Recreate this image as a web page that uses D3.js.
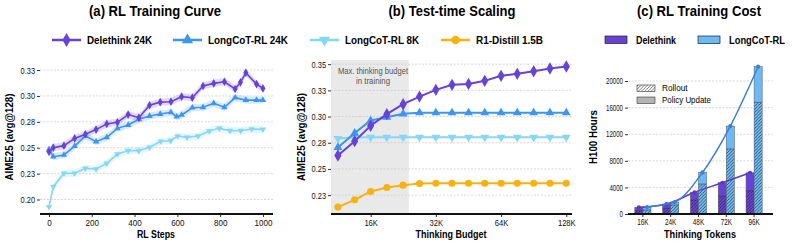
<!DOCTYPE html>
<html>
<head>
<meta charset="utf-8">
<script src="https://cdn.jsdelivr.net/npm/d3@7"></script>
<style>
body { margin: 0; background: #fff; }
svg { font-family: "Liberation Sans", Arial, sans-serif; }
</style>
</head>
<body>
<svg width="793" height="244"></svg>
<script>

// ---- (a) RL training curve ----
var deleSteps = [0, 20, 70, 120, 170, 220, 270, 320, 370, 420, 470, 520, 570, 620, 670, 720, 770, 820, 870, 895, 920, 970, 1000];
var deleAcc = [0.246, 0.250, 0.252, 0.259, 0.263, 0.2675, 0.273, 0.2745, 0.282, 0.279, 0.291, 0.294, 0.2944, 0.2993, 0.2983, 0.3096, 0.3121, 0.3137, 0.3067, 0.3131, 0.3224, 0.3115, 0.3073];
var long24Steps = [0, 20, 70, 120, 170, 220, 270, 320, 370, 420, 470, 520, 570, 597, 620, 670, 720, 770, 820, 870, 920, 970, 1000];
var long24Acc = [0.2485, 0.2413, 0.243, 0.2516, 0.2613, 0.2558, 0.260, 0.2687, 0.2719, 0.2774, 0.2806, 0.2825, 0.2842, 0.2799, 0.2816, 0.2886, 0.289, 0.2929, 0.289, 0.2983, 0.296, 0.296, 0.296];
var long8Steps = [0, 20, 70, 120, 170, 220, 270, 320, 370, 420, 470, 523, 569, 601, 645, 697, 749, 796, 846, 896, 947, 1000];
var long8Acc = [0.193, 0.2124, 0.2253, 0.2253, 0.2301, 0.2294, 0.2349, 0.2439, 0.2471, 0.2471, 0.2504, 0.2562, 0.2568, 0.2613, 0.260, 0.2613, 0.2661, 0.2687, 0.2664, 0.2664, 0.268, 0.2677];
var stepTicks = [0, 200, 400, 600, 800, 1000];
var accTicksA = [0.2, 0.225, 0.25, 0.275, 0.3, 0.325];

// ---- (b) test-time scaling ----
var budgetK = [11.3, 13.5, 16, 19, 22.6, 26.9, 32, 38, 45.3, 53.8, 64, 76, 90.5, 107.6, 128];
var deleTTS = [0.2628, 0.2765, 0.2912, 0.3023, 0.3118, 0.3191, 0.3255, 0.3303, 0.3312, 0.3341, 0.3389, 0.3408, 0.3433, 0.3459, 0.3478];
var long24TTS = [0.2705, 0.2842, 0.2962, 0.2994, 0.3026, 0.3036, 0.3036, 0.3036, 0.3036, 0.3036, 0.3036, 0.3036, 0.3036, 0.3036, 0.3036];
var long8TTS = [0.2791, 0.2803, 0.2803, 0.2803, 0.2803, 0.2803, 0.2803, 0.2803, 0.2803, 0.2803, 0.2803, 0.2803, 0.2803, 0.2803, 0.2803];
var r1TTS = [0.2136, 0.2205, 0.2285, 0.2323, 0.2345, 0.2361, 0.2364, 0.2364, 0.2364, 0.2364, 0.2364, 0.2364, 0.2364, 0.2364, 0.2364];
var budgetTicks = [16, 32, 64, 128];
var accTicksB = [0.225, 0.25, 0.275, 0.3, 0.325, 0.35];
var trainBudget = 24;

// ---- (c) RL training cost ----
var tokenCats = ["16K", "24K", "48K", "72K", "96K"];
var deleRollout = [500, 850, 2100, 2700, 3500];
var deleTotal = [1000, 1500, 3260, 4700, 6200];
var longRollout = [600, 1350, 4500, 9770, 16800];
var longTotal = [1050, 1800, 6250, 13230, 22150];
var hourTicks = [0, 4000, 8000, 12000, 16000, 20000];

var purple = "#6741d9", blue = "#3d95f2", lightBlue = "#84d7fb", orange = "#f7b20f";
var barPurple = "#6842d6", barBlue = "#6db9f6", lineBlue = "#3a80d9";

var svg = d3.select("svg");
var defs = svg.append("defs");
defs.append("pattern")
    .attr("id", "hatch")
    .attr("patternUnits", "userSpaceOnUse")
    .attr("width", 3.2).attr("height", 3.2)
  .append("path")
    .attr("d", "M-0.8,0.8 l1.6,-1.6 M0,3.2 l3.2,-3.2 M2.4,4 l1.6,-1.6")
    .attr("stroke", "#222").attr("stroke-width", 0.6);

var fmt2 = d3.format(".2f");

// squeeze text horizontally (reference font is a narrow sans);
// anchor is resolved by hand so centred / right-aligned text stays put
function squeeze(sel, target) {
  sel.each(function() {
    var n = this.getComputedTextLength();
    var t = typeof target === "function" ? target(n) : target;
    var anchor = getComputedStyle(this).textAnchor;
    var x = +(this.getAttribute("x") || 0);
    if (anchor === "middle") x -= t / 2;
    else if (anchor === "end") x -= t;
    this.setAttribute("x", x);
    this.style.textAnchor = "start";
    this.setAttribute("textLength", t);
    this.setAttribute("lengthAdjust", "spacingAndGlyphs");
  });
}

function yGrid(g, y, ticks, x0, x1, fmt, fs, k) {
  g.selectAll(".grid").data(ticks).enter().append("line")
      .attr("x1", x0).attr("x2", x1)
      .attr("y1", function(d) { return y(d); })
      .attr("y2", function(d) { return y(d); })
      .attr("stroke", "#c8c8c8").attr("stroke-width", 0.7)
      .attr("stroke-dasharray", "2,1.5");
  var ax = g.append("g")
      .attr("transform", "translate(" + x0 + ",0)")
      .call(d3.axisLeft(y).tickValues(ticks).tickFormat(fmt).tickSize(3).tickPadding(2));
  ax.select(".domain").remove();
  ax.selectAll("text").attr("font-size", fs).attr("fill", "#111").style("font-family", null);
  ax.selectAll("line").attr("stroke", "#333");
  squeeze(ax.selectAll("text"), function(n) { return n * k; });
}

function xAxis(g, x, ticks, fmt, x0, x1, fs, k) {
  var ax = g.append("g")
      .attr("transform", "translate(0,214)")
      .call(d3.axisBottom(x).tickValues(ticks).tickFormat(fmt).tickSize(3).tickPadding(2));
  ax.select(".domain").remove();
  ax.selectAll("text").attr("font-size", fs).attr("fill", "#111").style("font-family", null);
  ax.selectAll("line").attr("stroke", "#333");
  squeeze(ax.selectAll("text"), function(n) { return n * k; });
  g.append("line").attr("x1", x0).attr("x2", x1).attr("y1", 214).attr("y2", 214)
      .attr("stroke", "#111").attr("stroke-width", 2);
}

function title(x, text, w) {
  var t = svg.append("text").attr("x", x).attr("y", 16).attr("text-anchor", "middle")
      .attr("font-size", 15).attr("font-weight", "bold").text(text);
  squeeze(t, w);
}

function axisLabels(xc, xText, xw, ylx, yText, yw) {
  var a = svg.append("text").attr("x", xc).attr("y", 238).attr("text-anchor", "middle")
      .attr("font-size", 11.5).attr("font-weight", "bold").text(xText);
  squeeze(a, xw);
  var b = svg.append("text").attr("transform", "translate(" + ylx + ",137) rotate(-90)")
      .attr("text-anchor", "middle").attr("font-size", 11.5).attr("font-weight", "bold").text(yText);
  squeeze(b, yw);
}

function drawMarkers(g, pts, type, size, color, flip) {
  g.selectAll(null).data(pts).enter().append("path")
      .attr("d", d3.symbol().type(type).size(size)())
      .attr("transform", function(d) { return "translate(" + d[0] + "," + d[1] + ")" + (flip ? " rotate(180)" : ""); })
      .attr("fill", color);
}

// ================= panel (a) =================
var xA = d3.scaleLinear().domain([-42, 1047]).range([40, 273]);
var yA = d3.scaleLinear().domain([0.186, 0.3347]).range([214, 60]);
var gA = svg.append("g");
yGrid(gA, yA, accTicksA, 40, 273, fmt2, 9.5, 0.78);

var seriesA = [
  {steps: long8Steps, acc: long8Acc, color: lightBlue, type: d3.symbolTriangle, flip: true, size: 18},
  {steps: long24Steps, acc: long24Acc, color: blue, type: d3.symbolTriangle, flip: false, size: 18},
  {steps: deleSteps, acc: deleAcc, color: purple, type: d3.symbolDiamond, flip: false, size: 22}
];
seriesA.forEach(function(s) {
  var pts = s.steps.map(function(st, i) { return [st, s.acc[i]]; });
  gA.append("path").datum(pts)
      .attr("d", d3.area().x(function(d) { return xA(d[0]); })
        .y0(function(d) { return yA(d[1] - 0.0035); })
        .y1(function(d) { return yA(d[1] + 0.0035); }))
      .attr("fill", s.color).attr("opacity", 0.2);
});
seriesA.forEach(function(s) {
  var pts = s.steps.map(function(st, i) { return [xA(st), yA(s.acc[i])]; });
  gA.append("path").datum(pts).attr("d", d3.line())
      .attr("fill", "none").attr("stroke", s.color).attr("stroke-width", 1.6);
  drawMarkers(gA, pts, s.type, s.size, s.color, s.flip);
});
xAxis(gA, xA, stepTicks, d3.format("d"), 40, 273, 9.5, 0.85);
title(155, "(a) RL Training Curve", 132);
axisLabels(156, "RL Steps", 38, 13, "AIME25 (avg@128)", 87);

// ================= panel (b) =================
var xB = d3.scaleLog().base(2).domain([10.5, 136]).range([331, 572]);
var yB = d3.scaleLinear().domain([0.207, 0.354]).range([214, 60]);
var gB = svg.append("g");
gB.append("rect").attr("x", xB(10.5)).attr("y", 60)
    .attr("width", xB(trainBudget) - xB(10.5)).attr("height", 154)
    .attr("fill", "#e9e9e9");
yGrid(gB, yB, accTicksB, 331, 572, fmt2, 9.5, 0.78);
var s1 = gB.append("text").attr("x", 373).attr("y", 74).attr("text-anchor", "middle")
    .attr("font-size", 8.5).attr("fill", "#555").text("Max. thinking budget");
squeeze(s1, 70);
var s2 = gB.append("text").attr("x", 373).attr("y", 84).attr("text-anchor", "middle")
    .attr("font-size", 8.5).attr("fill", "#555").text("in training");
squeeze(s2, 34);

var seriesB = [
  {acc: r1TTS, color: orange, type: d3.symbolCircle, flip: false, size: 40},
  {acc: long8TTS, color: lightBlue, type: d3.symbolTriangle, flip: true, size: 34},
  {acc: long24TTS, color: blue, type: d3.symbolTriangle, flip: false, size: 34},
  {acc: deleTTS, color: purple, type: d3.symbolDiamond, flip: false, size: 44}
];
seriesB.forEach(function(s) {
  var pts = budgetK.map(function(b, i) { return [xB(b), yB(s.acc[i])]; });
  gB.append("path").datum(pts).attr("d", d3.line())
      .attr("fill", "none").attr("stroke", s.color).attr("stroke-width", 2);
  drawMarkers(gB, pts, s.type, s.size, s.color, s.flip);
});
xAxis(gB, xB, budgetTicks, function(d) { return d + "K"; }, 331, 572, 9.5, 0.8);
title(452, "(b) Test-time Scaling", 127);
axisLabels(451, "Thinking Budget", 71, 305, "AIME25 (avg@128)", 88);

// ---- shared legend for (a) and (b) ----
var legendAB = [
  {name: "Delethink 24K", color: purple, type: d3.symbolDiamond, flip: false, x: 52, w: 65},
  {name: "LongCoT-RL 24K", color: blue, type: d3.symbolTriangle, flip: false, x: 173, w: 80},
  {name: "LongCoT-RL 8K", color: lightBlue, type: d3.symbolTriangle, flip: true, x: 310, w: 74},
  {name: "R1-Distill 1.5B", color: orange, type: d3.symbolCircle, flip: false, x: 441, w: 67}
];
legendAB.forEach(function(l) {
  var g = svg.append("g").attr("transform", "translate(" + l.x + ",40)");
  g.append("line").attr("x1", 0).attr("x2", 29).attr("stroke", l.color).attr("stroke-width", 2.5);
  g.append("path").attr("d", d3.symbol().type(l.type).size(55)())
      .attr("transform", "translate(14.5,0)" + (l.flip ? " rotate(180)" : ""))
      .attr("fill", l.color);
  var t = g.append("text").attr("x", 35).attr("y", 4.2).attr("font-size", 11.5).attr("font-weight", "bold").text(l.name);
  squeeze(t, l.w);
});

// ================= panel (c) =================
var xC = d3.scaleBand().domain(tokenCats).range([629, 768]).paddingInner(0.42).paddingOuter(0.21);
var xSub = d3.scaleBand().domain(["dele", "long"]).range([0, xC.bandwidth()]);
var yC = d3.scaleLinear().domain([0, 23160]).range([214, 60]);
var gC = svg.append("g");
yGrid(gC, yC, hourTicks, 628, 773, d3.format("d"), 8.5, 0.72);

var barsC = [
  {key: "dele", rollout: deleRollout, total: deleTotal, color: barPurple},
  {key: "long", rollout: longRollout, total: longTotal, color: barBlue}
];
barsC.forEach(function(s) {
  tokenCats.forEach(function(c, i) {
    var x = xC(c) + xSub(s.key), w = xSub.bandwidth();
    gC.append("rect").attr("x", x).attr("y", yC(s.total[i]))
        .attr("width", w).attr("height", yC(0) - yC(s.total[i]))
        .attr("fill", s.color);
    gC.append("rect").attr("x", x).attr("y", yC(s.rollout[i]))
        .attr("width", w).attr("height", yC(0) - yC(s.rollout[i]))
        .attr("fill", "url(#hatch)");
    gC.append("line").attr("x1", x).attr("x2", x + w)
        .attr("y1", yC(s.rollout[i])).attr("y2", yC(s.rollout[i]))
        .attr("stroke", "#333").attr("stroke-width", 0.5);
    gC.append("rect").attr("x", x).attr("y", yC(s.total[i]))
        .attr("width", w).attr("height", yC(0) - yC(s.total[i]))
        .attr("fill", "none").attr("stroke", "#555").attr("stroke-width", 0.5);
  });
});
var linesC = [
  {key: "dele", total: deleTotal, color: "#5a3bc8"},
  {key: "long", total: longTotal, color: lineBlue}
];
linesC.forEach(function(s) {
  var pts = tokenCats.map(function(c, i) {
    return [xC(c) + xSub(s.key) + xSub.bandwidth() / 2, yC(s.total[i])];
  });
  gC.append("path").datum(pts).attr("d", d3.line().curve(d3.curveMonotoneX))
      .attr("fill", "none").attr("stroke", s.color).attr("stroke-width", 1.5);
  drawMarkers(gC, pts, d3.symbolCircle, 14, s.color, false);
});
xAxis(gC, xC, tokenCats, function(d) { return d; }, 628, 773, 8.5, 0.75);
title(699, "(c) RL Training Cost", 124);
axisLabels(700, "Thinking Tokens", 72, 597, "H100 Hours", 54);

// legend (c)
[{name: "Delethink", color: barPurple, x: 605, w: 40}, {name: "LongCoT-RL", color: barBlue, x: 698, w: 56}].forEach(function(l) {
  svg.append("rect").attr("x", l.x).attr("y", 36).attr("width", 22).attr("height", 7.5)
      .attr("fill", l.color).attr("stroke", "#222").attr("stroke-width", 0.7);
  var t = svg.append("text").attr("x", l.x + 31).attr("y", 44).attr("font-size", 10)
      .attr("font-weight", "bold").text(l.name);
  squeeze(t, l.w);
});
[{name: "Rollout", fill: "url(#hatch)", y: 85, w: 25.6}, {name: "Policy Update", fill: "#b4b4b4", y: 97, w: 49}].forEach(function(l) {
  svg.append("rect").attr("x", 637).attr("y", l.y).attr("width", 18).attr("height", 6.5)
      .attr("fill", "#fff");
  svg.append("rect").attr("x", 637).attr("y", l.y).attr("width", 18).attr("height", 6.5)
      .attr("fill", l.fill).attr("stroke", "#333").attr("stroke-width", 0.6);
  var t = svg.append("text").attr("x", 662).attr("y", l.y + 6.3).attr("font-size", 8.5).text(l.name);
  squeeze(t, l.w);
});

</script>
</body>
</html>
